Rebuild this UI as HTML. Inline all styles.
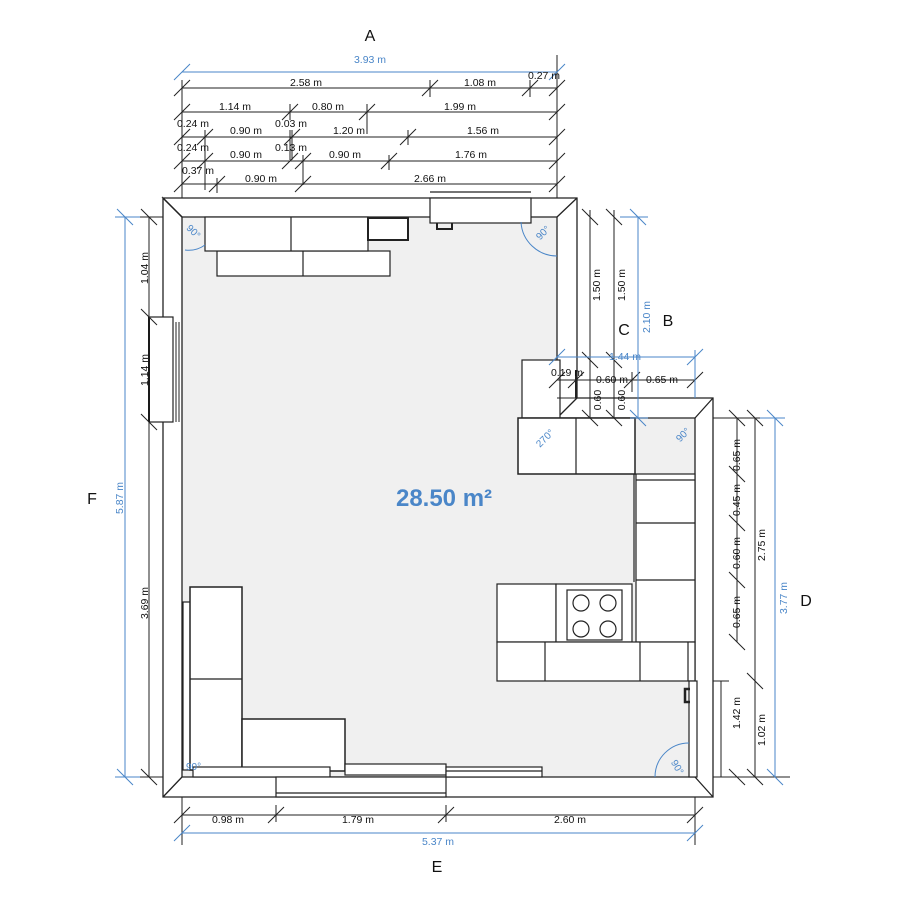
<!DOCTYPE html>
<html><head><meta charset="utf-8"><style>
html,body{margin:0;padding:0;background:#fff}
svg{display:block}
text{font-family:"Liberation Sans",sans-serif}
</style></head><body>
<svg width="900" height="900" viewBox="0 0 900 900" xmlns="http://www.w3.org/2000/svg">
<!-- floor -->
<polygon points="182,217 557,217 557,418 695,418 695,777 182,777" fill="#f0f0f0"/>
<!-- walls -->
<g fill="#fff" stroke="#222" stroke-width="1.3">
<polygon points="163,198 577,198 577,398 713,398 713,797 163,797 163,198 182,217 182,777 695,777 695,418 557,418 557,217 182,217" fill-rule="evenodd"/>
<path d="M163,198 L182,217 M577,198 L557,217 M577,398 L557,418 M713,398 L695,418 M713,797 L695,777 M163,797 L182,777" fill="none"/>
</g>
<!-- left window -->
<rect x="149" y="317" width="24" height="105" fill="#fff" stroke="#222" stroke-width="1.2"/>
<line x1="149" y1="317" x2="149" y2="422" stroke="#111" stroke-width="2"/>
<line x1="176" y1="322" x2="176" y2="422" stroke="#222"/>
<line x1="179" y1="322" x2="179" y2="422" stroke="#222"/>
<!-- top cabinets -->
<g fill="#fff" stroke="#222" stroke-width="1.2">
<rect x="217" y="251" width="173" height="25"/><line x1="303" y1="251" x2="303" y2="276"/>
<rect x="205" y="217" width="163" height="34"/><line x1="291" y1="217" x2="291" y2="251"/>
<rect x="368" y="218" width="40" height="22" stroke-width="2"/>
<rect x="430" y="198" width="101" height="25"/>
<path d="M437,223 v6 h15 v-6" fill="none" stroke-width="2"/>
<line x1="430" y1="192" x2="531" y2="192"/>
</g>
<!-- right notch cabinets -->
<g fill="#fff" stroke="#222" stroke-width="1.2">
<rect x="522" y="360" width="38" height="58"/>
<rect x="518" y="418" width="117" height="56" stroke-width="1.5"/><line x1="576" y1="418" x2="576" y2="474"/>
<rect x="636" y="474" width="59" height="168"/>
<line x1="636" y1="480" x2="695" y2="480"/><line x1="636" y1="523" x2="695" y2="523"/><line x1="636" y1="580" x2="695" y2="580"/>
<line x1="634" y1="474" x2="634" y2="582"/>
<rect x="497" y="584" width="59" height="58"/>
<rect x="556" y="584" width="76" height="58"/>
<rect x="567" y="590" width="55" height="50"/>
<circle cx="581" cy="603" r="8"/><circle cx="608" cy="603" r="8"/><circle cx="581" cy="629" r="8"/><circle cx="608" cy="629" r="8"/>
<rect x="497" y="642" width="198" height="39"/>
<line x1="545" y1="642" x2="545" y2="681"/><line x1="640" y1="642" x2="640" y2="681"/><line x1="688" y1="642" x2="688" y2="681"/>
<rect x="689" y="681" width="8" height="96"/>
<path d="M690,689 h-5 v13 h5" fill="none" stroke-width="2.5"/>
</g>
<!-- bottom left cabinets -->
<g fill="#fff" stroke="#222" stroke-width="1.2">
<rect x="183" y="602" width="10" height="168"/>
<rect x="190" y="587" width="52" height="183" stroke-width="1.5"/><line x1="190" y1="679" x2="242" y2="679"/>
<rect x="242" y="719" width="103" height="52" stroke-width="1.5"/>
<rect x="193" y="767" width="137" height="10"/>
<rect x="345" y="764" width="101" height="11"/>
<rect x="446" y="767" width="96" height="10"/><line x1="446" y1="771" x2="542" y2="771"/>
<rect x="276" y="777" width="170" height="20"/><line x1="276" y1="793" x2="446" y2="793"/>
</g>
<!-- angle marks -->
<g fill="none" stroke="#4a86c8" stroke-width="1">
<path d="M205,245 A28,28 0 0 1 185,250"/>
<path d="M557,256 A36,36 0 0 1 521,222"/>
<path d="M689,743 A34,34 0 0 0 655,777"/>
</g>
<g fill="#4a86c8" font-size="10">
<text x="186" y="232" transform="rotate(45 190 230)">90°</text>
<text x="534" y="238" transform="rotate(-45 540 232)">90°</text>
<text x="533" y="445" transform="rotate(-45 540 438)">270°</text>
<text x="674" y="440" transform="rotate(-45 680 434)">90°</text>
<text x="672" y="770" transform="rotate(60 678 765)">90°</text>
<text x="186" y="770">90°</text>
</g>
<!-- dimension lines -->
<g stroke="#222" stroke-width="1" fill="none">
<line x1="182" y1="80" x2="182" y2="198"/><line x1="557" y1="55" x2="557" y2="198"/>
<line x1="182" y1="88" x2="557" y2="88"/><line x1="182" y1="112" x2="557" y2="112"/>
<line x1="182" y1="137" x2="557" y2="137"/><line x1="182" y1="161" x2="557" y2="161"/>
<line x1="182" y1="184" x2="557" y2="184"/>
<path d="M430,80 v17 M530,80 v17 M290,104 v16 M367,104 v30 M205,130 v60 M290,130 v30 M292,130 v30 M408,130 v15 M303,155 v30 M389,155 v15 M217,178 v15"/>
<path d="M174,96 l16,-16 M422,96 l16,-16 M522,96 l16,-16 M549,96 l16,-16 M174,120 l16,-16 M282,120 l16,-16 M359,120 l16,-16 M549,120 l16,-16 M174,145 l16,-16 M197,145 l16,-16 M284,145 l16,-16 M400,145 l16,-16 M549,145 l16,-16 M174,169 l16,-16 M197,169 l16,-16 M282,169 l16,-16 M295,169 l16,-16 M381,169 l16,-16 M549,169 l16,-16 M174,192 l16,-16 M209,192 l16,-16 M295,192 l16,-16 M549,192 l16,-16"/>
<!-- right C dims -->
<line x1="590" y1="210" x2="590" y2="418"/><line x1="614" y1="210" x2="614" y2="418"/>
<path d="M582,209 l16,16 M606,209 l16,16 M582,410 l16,16 M606,410 l16,16 M582,352 l16,16 M606,352 l16,16"/>
<line x1="557" y1="380" x2="695" y2="380"/><line x1="557" y1="398" x2="576" y2="398"/>
<path d="M549,388 l16,-16 M568,388 l16,-16 M624,388 l16,-16 M687,388 l16,-16"/>
<line x1="576" y1="370" x2="576" y2="398" stroke-width="2"/><line x1="632" y1="372" x2="632" y2="392"/>
<!-- right D dims -->
<line x1="737" y1="418" x2="737" y2="642"/><line x1="755" y1="418" x2="755" y2="777"/><line x1="721" y1="681" x2="721" y2="777"/>
<line x1="713" y1="418" x2="760" y2="418"/><line x1="713" y1="777" x2="790" y2="777"/>
<path d="M729,410 l16,16 M747,410 l16,16 M729,466 l16,16 M729,515 l16,16 M729,572 l16,16 M729,634 l16,16 M747,673 l16,16 M729,769 l16,16 M747,769 l16,16 M713,681 l16,0"/>
<!-- left dims -->
<line x1="149" y1="217" x2="149" y2="777"/>
<line x1="140" y1="217" x2="163" y2="217"/><line x1="140" y1="777" x2="163" y2="777"/>
<path d="M141,209 l16,16 M141,309 l16,16 M141,414 l16,16 M141,769 l16,16"/>
<!-- bottom dims -->
<line x1="182" y1="797" x2="182" y2="845"/><line x1="695" y1="797" x2="695" y2="845"/>
<line x1="182" y1="815" x2="695" y2="815"/><line x1="276" y1="805" x2="276" y2="822"/><line x1="446" y1="805" x2="446" y2="822"/>
<path d="M174,823 l16,-16 M268,823 l16,-16 M438,823 l16,-16 M687,823 l16,-16"/>
</g>
<!-- blue dims -->
<g stroke="#4a86c8" stroke-width="1" fill="none">
<line x1="182" y1="72" x2="557" y2="72"/><path d="M174,80 l16,-16 M549,80 l16,-16"/>
<line x1="638" y1="217" x2="638" y2="418"/><line x1="620" y1="217" x2="648" y2="217"/><line x1="630" y1="418" x2="648" y2="418"/><path d="M630,209 l16,16 M630,410 l16,16"/>
<line x1="557" y1="357" x2="695" y2="357"/><line x1="695" y1="350" x2="695" y2="398"/><path d="M549,365 l16,-16 M687,365 l16,-16"/>
<line x1="775" y1="418" x2="775" y2="777"/><line x1="760" y1="418" x2="785" y2="418"/><path d="M767,410 l16,16 M767,769 l16,16"/>
<line x1="125" y1="217" x2="125" y2="777"/><line x1="115" y1="217" x2="140" y2="217"/><line x1="115" y1="777" x2="140" y2="777"/><path d="M117,209 l16,16 M117,769 l16,16"/>
<line x1="182" y1="833" x2="695" y2="833"/><path d="M174,841 l16,-16 M687,841 l16,-16"/>
</g>
<!-- labels -->
<g font-size="10.5" fill="#111" text-anchor="middle">
<text x="306" y="86">2.58 m</text><text x="480" y="86">1.08 m</text><text x="544" y="79">0.27 m</text>
<text x="235" y="110">1.14 m</text><text x="328" y="110">0.80 m</text><text x="460" y="110">1.99 m</text>
<text x="193" y="127">0.24 m</text><text x="246" y="134">0.90 m</text><text x="291" y="127">0.03 m</text><text x="349" y="134">1.20 m</text><text x="483" y="134">1.56 m</text>
<text x="193" y="151">0.24 m</text><text x="246" y="158">0.90 m</text><text x="291" y="151">0.13 m</text><text x="345" y="158">0.90 m</text><text x="471" y="158">1.76 m</text>
<text x="198" y="174">0.37 m</text><text x="261" y="182">0.90 m</text><text x="430" y="182">2.66 m</text>
<text x="567" y="376">0.19 m</text><text x="612" y="383">0.60 m</text><text x="662" y="383">0.65 m</text>
<text x="228" y="823">0.98 m</text><text x="358" y="823">1.79 m</text><text x="570" y="823">2.60 m</text>
<text transform="translate(600,285) rotate(-90)">1.50 m</text>
<text transform="translate(625,285) rotate(-90)">1.50 m</text>
<text transform="translate(601,400) rotate(-90)">0.60</text>
<text transform="translate(625,400) rotate(-90)">0.60</text>
<text transform="translate(740,455) rotate(-90)">0.65 m</text>
<text transform="translate(740,500) rotate(-90)">0.45 m</text>
<text transform="translate(740,553) rotate(-90)">0.60 m</text>
<text transform="translate(740,612) rotate(-90)">0.65 m</text>
<text transform="translate(765,545) rotate(-90)">2.75 m</text>
<text transform="translate(740,713) rotate(-90)">1.42 m</text>
<text transform="translate(765,730) rotate(-90)">1.02 m</text>
<text transform="translate(148,268) rotate(-90)">1.04 m</text>
<text transform="translate(148,370) rotate(-90)">1.14 m</text>
<text transform="translate(148,603) rotate(-90)">3.69 m</text>
</g>
<g font-size="10.5" fill="#4a86c8" text-anchor="middle">
<text x="370" y="63">3.93 m</text><text x="625" y="360">1.44 m</text><text x="438" y="845">5.37 m</text>
<text transform="translate(650,317) rotate(-90)">2.10 m</text>
<text transform="translate(787,598) rotate(-90)">3.77 m</text>
<text transform="translate(123,498) rotate(-90)">5.87 m</text>
</g>
<g font-size="16" fill="#111" text-anchor="middle">
<text x="370" y="41">A</text><text x="668" y="326">B</text><text x="624" y="335">C</text>
<text x="806" y="606">D</text><text x="437" y="872">E</text><text x="92" y="504">F</text>
</g>
<text x="444" y="506" font-size="24" font-weight="bold" fill="#4a86c8" text-anchor="middle">28.50 m²</text>
</svg>
</body></html>
